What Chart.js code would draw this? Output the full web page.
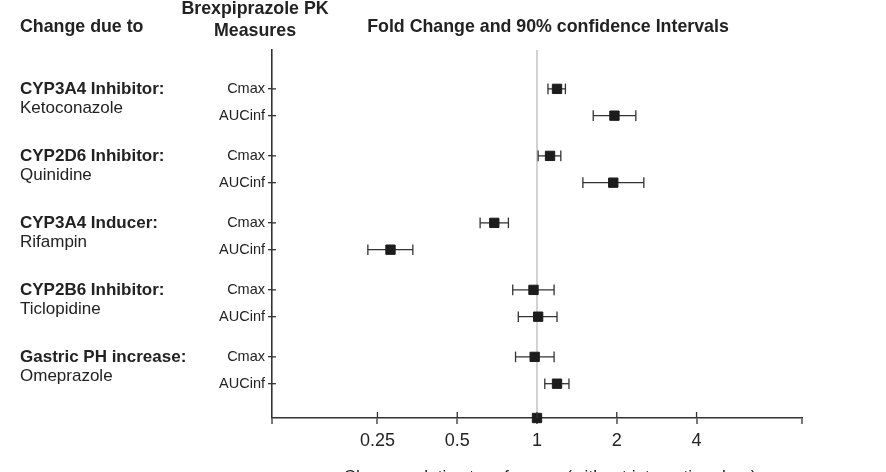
<!DOCTYPE html>
<html lang="en">
<head>
  <meta charset="UTF-8">
  <title>Brexpiprazole PK - Fold Change and 90% confidence Intervals</title>

  <!-- Chart.js from CDN -->
  <script src="https://cdn.jsdelivr.net/npm/chart.js"></script>

  <style>
    body { margin: 0; background: #fff; }
    canvas { display: block; }
  </style>
</head>
<body>
  <canvas id="forestChart" width="886" height="472"></canvas>

<script>
// ---- data ----
const groups   = ['CYP3A4 Inhibitor:', 'CYP2D6 Inhibitor:', 'CYP3A4 Inducer:', 'CYP2B6 Inhibitor:', 'Gastric PH increase:'];
const drugs    = ['Ketoconazole', 'Quinidine', 'Rifampin', 'Ticlopidine', 'Omeprazole'];
const measures = ['Cmax', 'AUCinf'];

// fold change (point) and 90% CI bounds, one entry per group
const cmaxRatio = [1.19, 1.12, 0.69, 0.97, 0.98];
const cmaxLow   = [1.10, 1.01, 0.61, 0.81, 0.83];
const cmaxHigh  = [1.28, 1.23, 0.78, 1.16, 1.16];
const aucRatio  = [1.96, 1.94, 0.28, 1.01, 1.19];
const aucLow    = [1.63, 1.49, 0.23, 0.85, 1.07];
const aucHigh   = [2.36, 2.53, 0.34, 1.19, 1.32];

const refValue = 1; // reference (no interaction drug)

const xTicks      = [0.1, 0.25, 0.5, 1, 2, 4, 10];
const xTickLabels = ['', '0.25', '0.5', '1', '2', '4', ''];

const xTitle = 'Change relative to reference (without interacting drug)';

// ---- layout helpers ----
const GROUP_STEP = 2.5;          // y units between groups
const Y_MIN = -1.45, Y_MAX = 12.28;
const FONT = '"Liberation Sans", Arial, sans-serif';
const INK = '#222';
const LINE = '#333';

function rowY(g, m) { return g * GROUP_STEP + m; }

// build rows: [{y, label, val, lo, hi}]
const rows = [];
groups.forEach((g, i) => {
  rows.push({ y: rowY(i, 0), label: measures[0], val: cmaxRatio[i], lo: cmaxLow[i], hi: cmaxHigh[i] });
  rows.push({ y: rowY(i, 1), label: measures[1], val: aucRatio[i],  lo: aucLow[i],  hi: aucHigh[i] });
});

// point dataset (first = drawn on top)
const datasets = [{
  data: rows.map(r => ({ x: r.val, y: r.y })).concat([{ x: refValue, y: Y_MAX }]),
  pointStyle: 'rect',
  pointRadius: 6.6,
  backgroundColor: '#1c1c1c',
  borderColor: '#1c1c1c',
  borderWidth: 1,
  clip: false
}];

// one CI line per row, caps drawn as rotated 'line' points
rows.forEach(r => {
  datasets.push({
    data: [{ x: r.lo, y: r.y }, { x: r.hi, y: r.y }],
    showLine: true,
    borderColor: LINE,
    borderWidth: 1.3,
    pointStyle: 'line',
    rotation: 90,
    pointRadius: 5.3,
    pointBorderWidth: 1.3,
    pointBorderColor: LINE
  });
});

// texts and inner tick marks
const labelsPlugin = {
  id: 'labels',
  afterDraw(chart) {
    const ctx = chart.ctx;
    const xs = chart.scales.x, ys = chart.scales.y;
    const area = chart.chartArea;

    ctx.save();
    ctx.strokeStyle = LINE;
    ctx.lineWidth = 1.3;
    // x ticks going up into the chart area
    xTicks.forEach((v, i) => {
      if (!xTickLabels[i]) return;
      const px = xs.getPixelForValue(v);
      ctx.beginPath();
      ctx.moveTo(px, area.bottom);
      ctx.lineTo(px, area.bottom - 6);
      ctx.stroke();
    });
    // y ticks going right into the chart area
    rows.forEach(r => {
      const py = ys.getPixelForValue(r.y);
      ctx.beginPath();
      ctx.moveTo(area.left, py);
      ctx.lineTo(area.left + 4, py);
      ctx.stroke();
    });

    ctx.fillStyle = INK;
    ctx.textBaseline = 'middle';

    // headers
    ctx.font = 'bold 17.8px ' + FONT;
    ctx.textAlign = 'left';
    ctx.fillText('Change due to', 20, 27);
    ctx.textAlign = 'center';
    ctx.fillText('Brexpiprazole PK', 255, 9);
    ctx.fillText('Measures', 255, 31);
    ctx.fillText('Fold Change and 90% confidence Intervals', 548, 27);

    // group names + drugs
    ctx.textAlign = 'left';
    groups.forEach((g, i) => {
      const py = ys.getPixelForValue(rowY(i, 0));
      ctx.font = 'bold 17px ' + FONT;
      ctx.fillText(g, 20, py);
      ctx.font = '17px ' + FONT;
      ctx.fillText(drugs[i], 20, py + 19);
    });

    // x axis title (cut by the bottom edge)
    ctx.font = '17.3px ' + FONT;
    ctx.textAlign = 'center';
    ctx.textBaseline = 'top';
    ctx.fillText(xTitle, 550, 469);
    ctx.restore();
  }
};

const chart = new Chart(document.getElementById('forestChart'), {
  type: 'scatter',
  data: { datasets: datasets },
  options: {
    responsive: false,
    animation: false,
    events: [],
    layout: { padding: { left: 0, top: 50, right: 84, bottom: 0 } },
    plugins: { legend: { display: false }, tooltip: { enabled: false } },
    scales: {
      x: {
        type: 'logarithmic',
        min: 0.1,
        max: 10,
        afterBuildTicks: s => { s.ticks = xTicks.map(v => ({ value: v })); },
        afterFit: s => { s.height = 54; },
        ticks: {
          autoSkip: false,
          maxRotation: 0,
          padding: 6,
          color: INK,
          font: { family: FONT, size: 18 },
          callback: (v, i) => xTickLabels[i]
        },
        grid: {
          drawOnChartArea: true,
          color: c => (c.tick && c.tick.value === refValue) ? '#d2d2d2' : 'rgba(0,0,0,0)',
          lineWidth: 2,
          tickColor: LINE,
          tickWidth: 1.3,
          tickLength: 6
        },
        border: { color: LINE, width: 1.6 }
      },
      y: {
        type: 'linear',
        reverse: true,
        min: Y_MIN,
        max: Y_MAX,
        afterBuildTicks: s => { s.ticks = rows.map(r => ({ value: r.y })); },
        afterFit: s => { s.width = 272; },
        ticks: {
          autoSkip: false,
          padding: 3,
          color: INK,
          font: { family: FONT, size: 14.5 },
          callback: (v, i) => rows[i].label
        },
        grid: {
          drawOnChartArea: false,
          color: LINE,
          lineWidth: 1.3,
          tickLength: 4
        },
        border: { color: LINE, width: 1.6 }
      }
    }
  },
  plugins: [labelsPlugin]
});
</script>
</body>
</html>
